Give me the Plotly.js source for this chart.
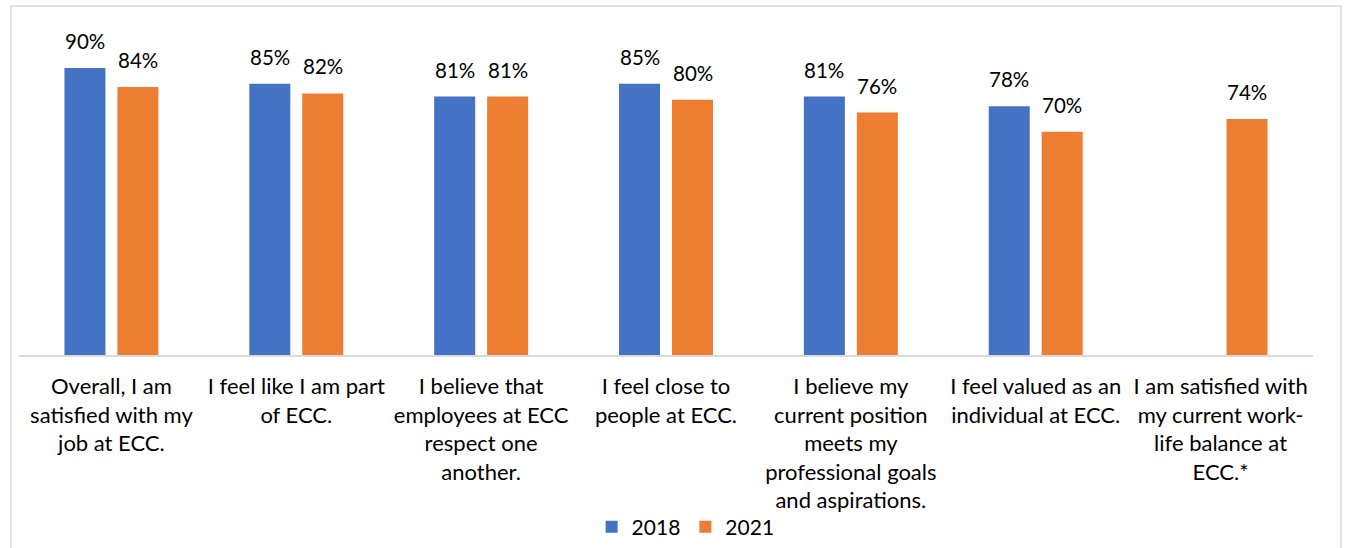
<!DOCTYPE html>
<html><head><meta charset="utf-8">
<script src="https://cdn.plot.ly/plotly-3.0.1.min.js"></script>
<style>html,body{margin:0;padding:0;background:#fff;}#chart{width:1347px;height:548px;}</style>
</head><body><div id="chart"></div>
<script>
const categories = [
  "Overall, I am<br>satisfied with my<br>job at ECC.",
  "I feel like I am part<br>of ECC.",
  "I believe that<br>employees at ECC<br>respect one<br>another.",
  "I feel close to<br>people at ECC.",
  "I believe my<br>current position<br>meets my<br>professional goals<br>and aspirations.",
  "I feel valued as an<br>individual at ECC.",
  "I am satisfied with<br>my current work-<br>life balance at<br>ECC.*"
];
const values2018 = [90, 85, 81, 85, 81, 78, null];
const values2021 = [84, 82, 81, 80, 76, 70, 74];
const seriesNames = ["2018", "2021"];
const seriesColors = ['#4472C4', '#ED7D31'];

const FONT = "Lato, 'Open Sans', sans-serif";
const mk = (name, vals, color) => ({
  type: 'bar', name: name, x: categories, y: vals,
  marker: {color: color},
  hoverinfo: 'x+y'
});
const data = [mk(seriesNames[0], values2018, seriesColors[0]), mk(seriesNames[1], values2021, seriesColors[1])];

const annotations = [];
[values2018, values2021].forEach((vals, si) => {
  vals.forEach((v, i) => {
    if (v == null) return;
    annotations.push({
      x: categories[i], y: v, xref: 'x', yref: 'y',
      text: v + '%', showarrow: false,
      xshift: si === 0 ? -26.5 : 26.5, yshift: 13, yanchor: 'bottom',
      font: {family: FONT, size: 20.5, color: '#000'}
    });
  });
});

const layout = {
  width: 1347, height: 548,
  margin: {l: 19, r: 34, t: 36, b: 193},
  paper_bgcolor: '#fff', plot_bgcolor: '#fff',
  barmode: 'group', bargap: 0.427, bargroupgap: 0.226,
  font: {family: FONT, size: 20, color: '#000'},
  xaxis: {showline: true, linecolor: '#D9D9D9', linewidth: 1.5, ticks: '', showgrid: false, automargin: false,
          tickfont: {family: FONT, size: 22, color: '#000'}, ticklabelstandoff: 11},
  yaxis: {range: [0, 100], visible: false, showgrid: false, zeroline: false},
  showlegend: true,
  legend: {orientation: 'h', xref: 'container', yref: 'container', x: 0.509, xanchor: 'center', y: 0.038, yanchor: 'middle',
           bgcolor: 'rgba(0,0,0,0)',
           font: {family: FONT, size: 21, color: '#000'}, traceorder: 'normal'},
  annotations: annotations,
  shapes: [{type: 'rect', xref: 'paper', yref: 'paper', x0: -0.0062, x1: 1.0216, y0: -0.75, y1: 1.094,
            line: {color: '#D9D9D9', width: 1.5}, fillcolor: 'rgba(0,0,0,0)', layer: 'below'}]
};
Plotly.newPlot('chart', data, layout, {displayModeBar: false, staticPlot: true});
</script></body></html>
